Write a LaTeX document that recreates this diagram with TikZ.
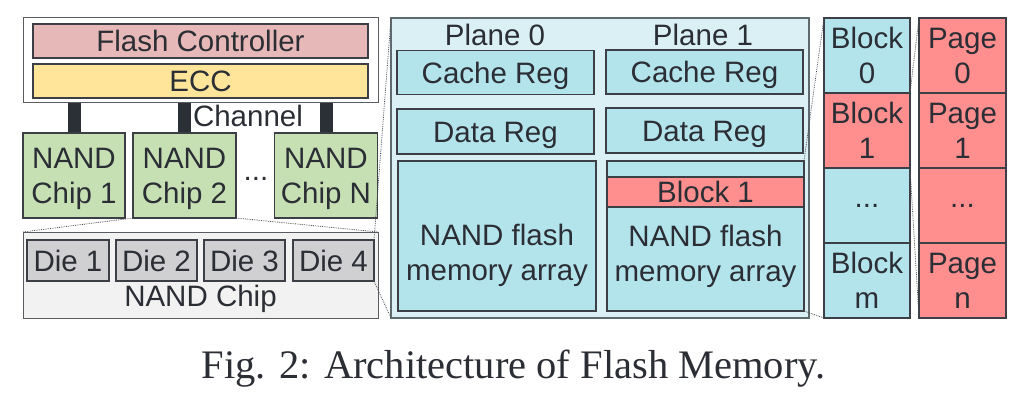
\documentclass[tikz,border=0pt]{standalone}
\usepackage{fontspec}
\setmainfont{Liberation Sans}
\newfontfamily\capfont{Liberation Serif}
\definecolor{txt}{HTML}{2B2E34}
\definecolor{edge}{HTML}{3C4046}
\definecolor{fcfill}{HTML}{E6B9B8}
\definecolor{eccfill}{HTML}{FFE59A}
\definecolor{chipfill}{HTML}{C6E0B4}
\definecolor{nandfill}{HTML}{F2F2F2}
\definecolor{diefill}{HTML}{D0D0D2}
\definecolor{planefill}{HTML}{DAF0F4}
\definecolor{planeedge}{HTML}{5F6A70}
\definecolor{regfill}{HTML}{B4E4EB}
\definecolor{redfill}{HTML}{FF8F8F}
\definecolor{barc}{HTML}{2B2F36}
\definecolor{dotc}{HTML}{4A4E56}
\begin{document}
\begin{tikzpicture}[x=1pt,y=-1pt,
  every node/.style={text=txt, font=\fontsize{29.5}{35}\selectfont, inner sep=0pt, outer sep=0pt},
  bx/.style={draw=edge, line width=1.3pt, rectangle, align=center},
  one/.style={text height=21.2pt, text depth=0pt},
  chan/.style={draw=barc, line width=13pt},
  zoomln/.style={draw=dotc, densely dotted, line width=0.8pt}]
\useasboundingbox (0,0) rectangle (1028,401);
% controller
\node[rectangle, draw=edge!85, line width=1pt, fill=white, minimum width=355pt, minimum height=85pt] (ctrl) at (200.5,60.5) {};
\node[bx, one, fill=fcfill, minimum width=335pt, minimum height=34pt] (fc) at (200.5,41) {Flash Controller};
\node[bx, one, fill=eccfill, minimum width=335pt, minimum height=34pt] (ecc) at (200.5,81) {ECC};
% chips
\coordinate (c1) at (74,175.5);
\coordinate (c2) at (184.5,175.5);
\coordinate (cN) at (326,175.5);
\draw[chan] (c1 |- ctrl.south) -- (c1 |- 0,133);
\draw[chan] (c2 |- ctrl.south) -- (c2 |- 0,133);
\draw[chan] (cN |- ctrl.south) -- (cN |- 0,133);
\node[bx, fill=chipfill, minimum width=102pt, minimum height=85pt] (chip1) at (c1) {};
\node[bx, fill=chipfill, minimum width=103pt, minimum height=85pt] (chip2) at (c2) {};
\node[bx, fill=chipfill, minimum width=103pt, minimum height=85pt] (chipN) at (cN) {};
\node[align=center] (t1) at ([yshift=-3pt]chip1.center) {NAND\\Chip 1};
\node[align=center] (t2) at ([yshift=-3pt]chip2.center) {NAND\\Chip 2};
\node[align=center] (tN) at ([yshift=-3pt]chipN.center) {NAND\\Chip N};
\node[anchor=base] (cdots) at (256,180) {...};
\node[anchor=base west] (chlbl) at (193,127) {Channel};
% NAND chip
\node[rectangle, draw=edge!85, line width=1pt, fill=nandfill, minimum width=355pt, minimum height=86pt] (nand) at (200.5,275) {};
\node[bx, one, fill=diefill, minimum width=82pt, minimum height=41pt] (die1) at (68,260.5) {Die 1};
\node[bx, one, fill=diefill, minimum width=81pt, minimum height=41pt] (die2) at (156.5,260.5) {Die 2};
\node[bx, one, fill=diefill, minimum width=81pt, minimum height=41pt] (die3) at (244.5,260.5) {Die 3};
\node[bx, one, fill=diefill, minimum width=81pt, minimum height=41pt] (die4) at (333.5,260.5) {Die 4};
\node[one] (nandlbl) at (200.5,296) {NAND Chip};
% plane box
\node[rectangle, draw=planeedge, line width=1.2pt, fill=planefill, minimum width=418pt, minimum height=300pt] (plane) at (600,168) {};
\node[one] (p0) at (495,35) {Plane 0};
\node[one] (p1) at (703,35) {Plane 1};
\node[bx, one, fill=regfill, minimum width=197pt, minimum height=44pt] (cache0) at (495.5,72.5) {Cache Reg};
\node[bx, one, fill=regfill, minimum width=197pt, minimum height=44pt] (cache1) at (704.5,72) {Cache Reg};
\node[bx, one, fill=regfill, minimum width=197pt, minimum height=45pt] (data0) at (495.5,131.5) {Data Reg};
\node[bx, one, fill=regfill, minimum width=197pt, minimum height=45pt] (data1) at (704.5,130.5) {Data Reg};
\node[bx, fill=regfill, minimum width=198pt, minimum height=150pt] (arr0) at (497,236) {};
\node[bx, fill=regfill, minimum width=197pt, minimum height=150pt] (arr1) at (705.5,236) {};
\node[bx, one, fill=redfill, minimum width=197pt, minimum height=30pt] (blk) at (705.5,192) {Block 1};
\node[align=center] (a0lbl) at (497,255) {NAND flash\\memory array};
\node[align=center] (a1lbl) at (705.5,256) {NAND flash\\memory array};
% block column
\node[bx, fill=regfill, minimum width=86pt, minimum height=75pt] (b0) at (867,55.5) {Block\\0};
\node[bx, fill=redfill, minimum width=86pt, minimum height=75pt] (b1) at (867,130.5) {Block\\1};
\node[bx, fill=regfill, minimum width=86pt, minimum height=75pt] (bd) at (867,205.5) {...};
\node[bx, fill=regfill, minimum width=86pt, minimum height=75pt] (bm) at (867,280.5) {Block\\m};
% page column
\node[bx, fill=redfill, minimum width=87pt, minimum height=75pt] (pg0) at (962.5,55.5) {Page\\0};
\node[bx, fill=redfill, minimum width=87pt, minimum height=75pt] (pg1) at (962.5,130.5) {Page\\1};
\node[bx, fill=redfill, minimum width=87pt, minimum height=75pt] (pgd) at (962.5,205.5) {...};
\node[bx, fill=redfill, minimum width=87pt, minimum height=75pt] (pgn) at (962.5,280.5) {Page\\n};
% zoom lines
\draw[zoomln] (chip2.south west) -- (nand.north west);
\draw[zoomln] (chip2.south east) -- (nand.north east);
\draw[zoomln] (die4.north east) -- (plane.north west);
\draw[zoomln] (die4.south east) -- (plane.south west);
\draw[zoomln] (arr1.north east) -- (b0.north west);
\draw[zoomln] (arr1.south east) -- (bm.south west);
\draw[zoomln] (b1.north east) -- (pg0.north west);
\draw[zoomln] (b1.south east) -- (pgn.south west);
% caption
\node[anchor=base, font=\capfont\fontsize{40.5}{44}\selectfont] (cap) at (513.5,378) {Fig. 2: Architecture of Flash Memory.};
\end{tikzpicture}
\end{document}
